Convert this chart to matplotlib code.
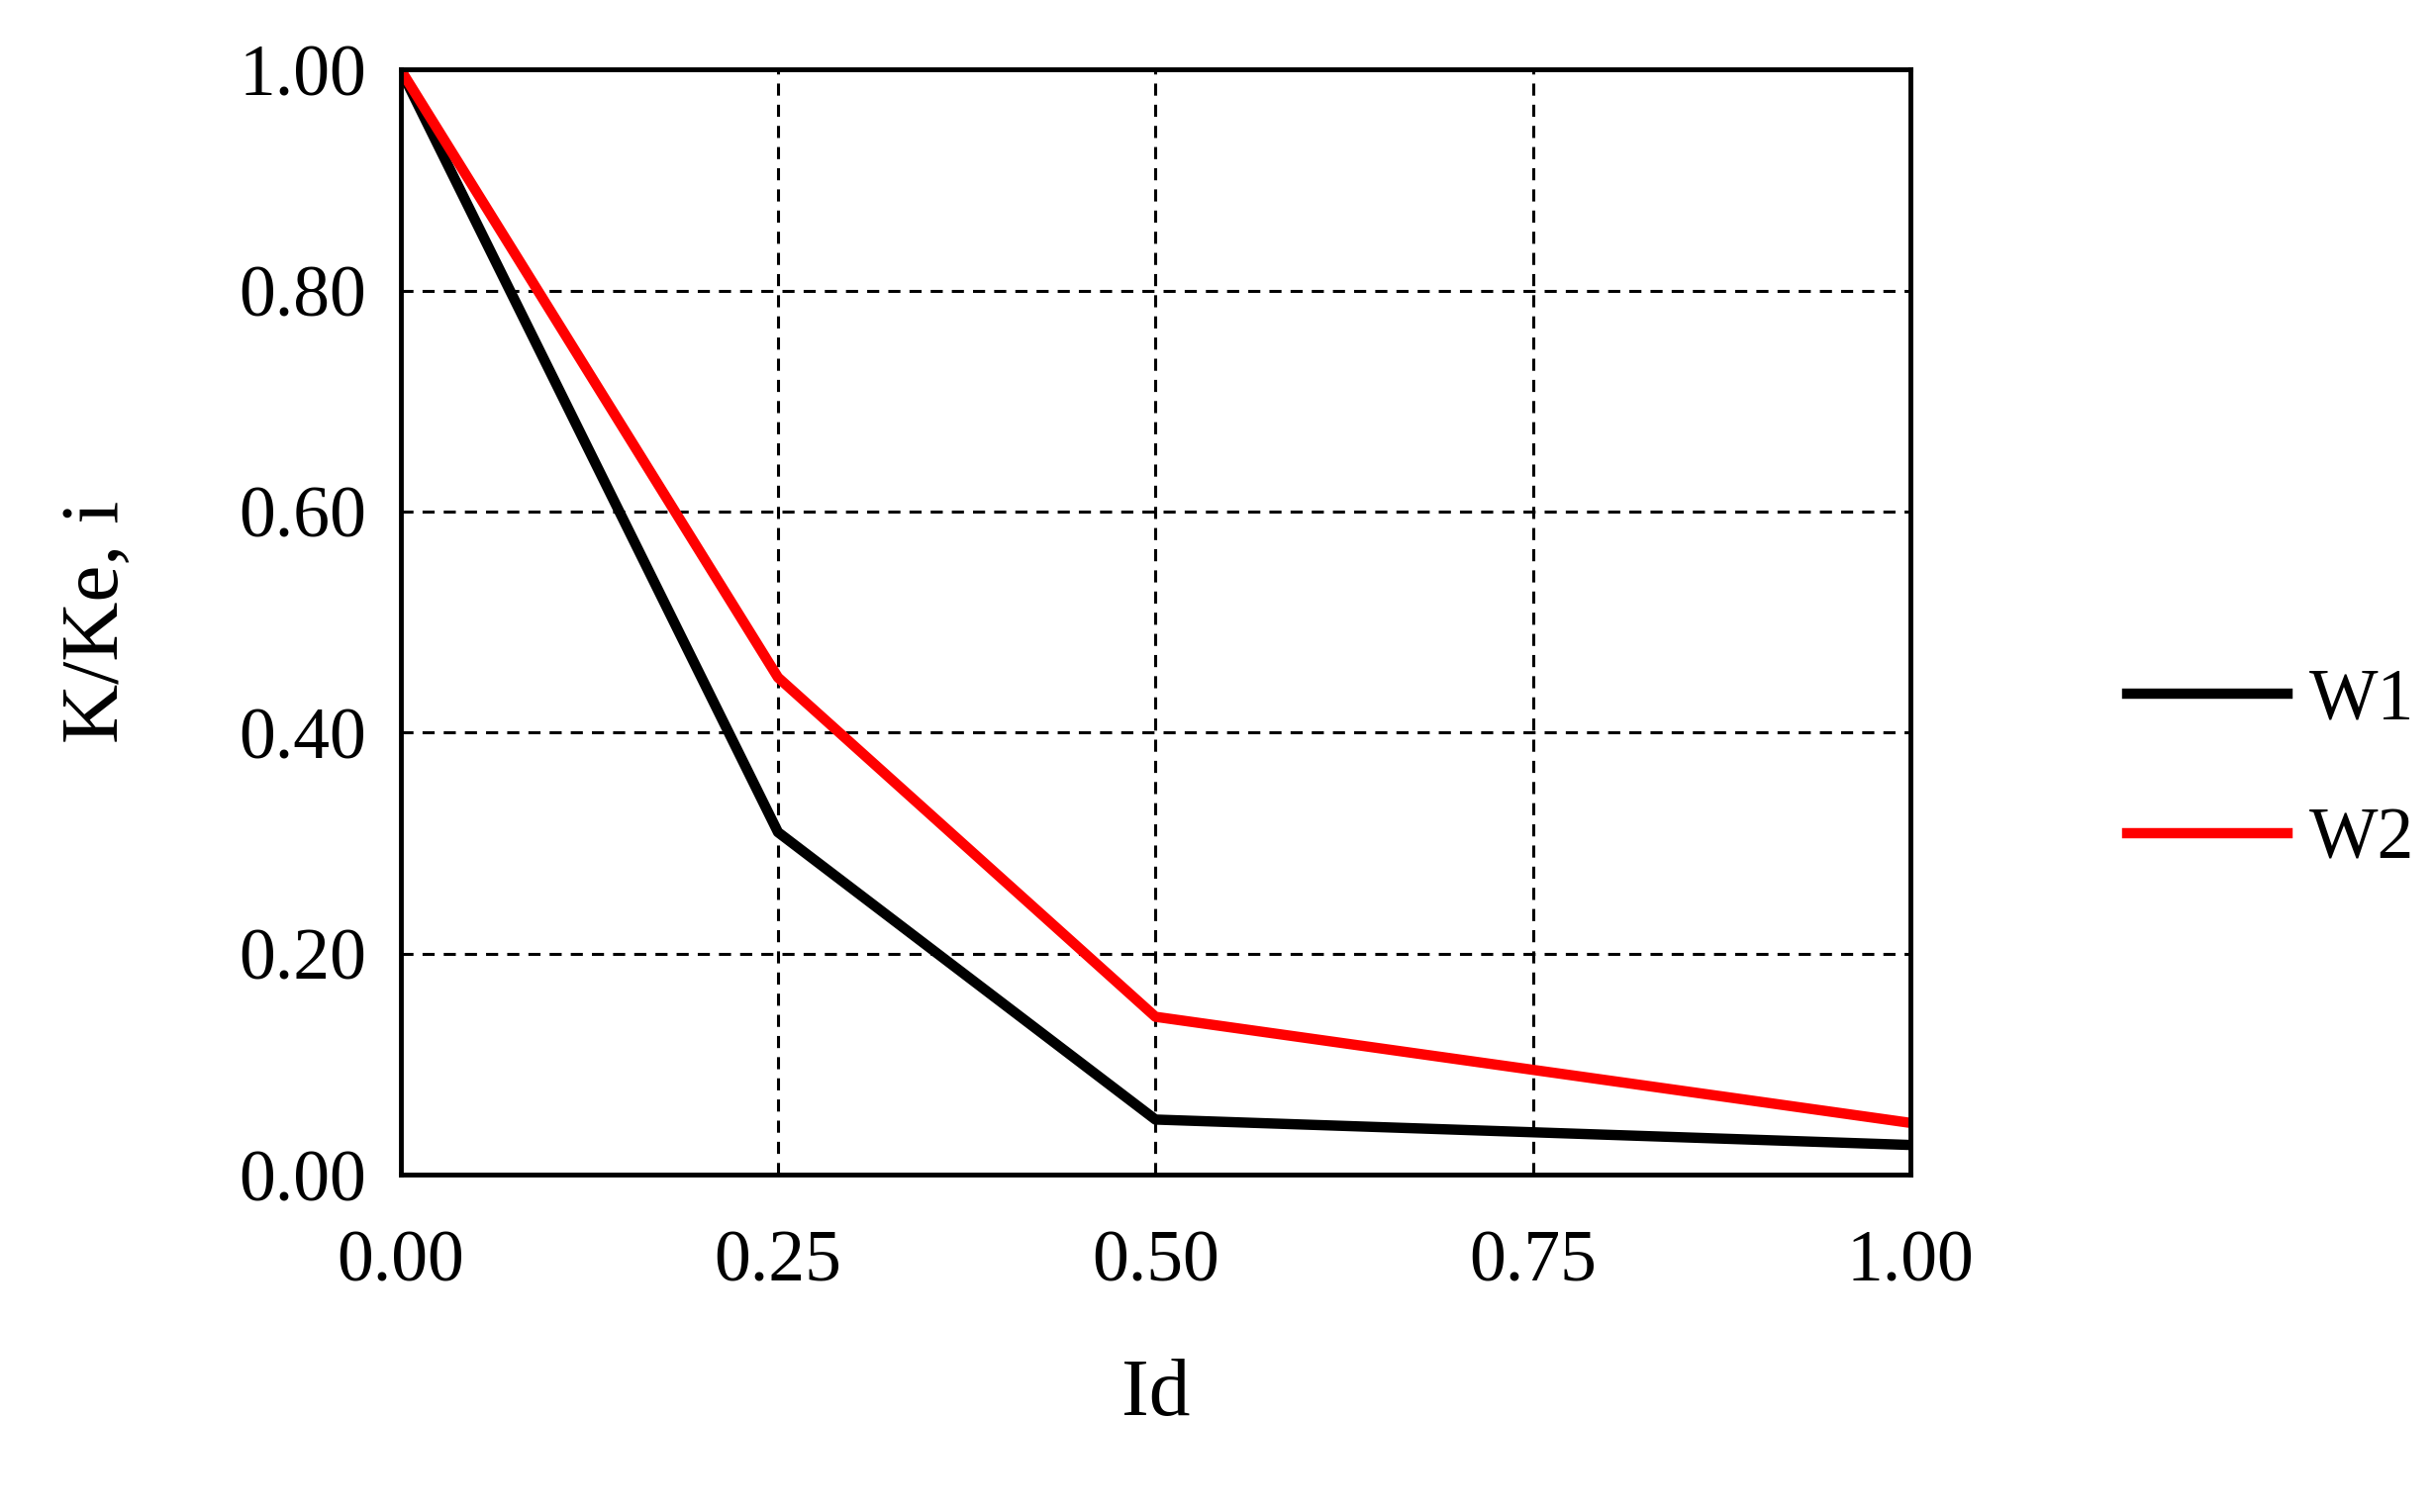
import matplotlib
matplotlib.use("Agg")
import matplotlib.pyplot as plt

x = [0.0, 0.25, 0.5, 1.0]
w1 = [1.0, 0.31, 0.05, 0.027]
w2 = [1.0, 0.45, 0.143, 0.047]
xticks = [0.0, 0.25, 0.5, 0.75, 1.0]
yticks = [0.0, 0.2, 0.4, 0.6, 0.8, 1.0]

plt.rcParams['font.family'] = ['Liberation Serif', 'DejaVu Serif']
fig = plt.figure(figsize=(24.6, 15.28), dpi=100)
ax = fig.add_axes([0.1645, 0.223, 0.62, 0.731])
ax.plot(x, w1, color='black', lw=7.5, label='W1')
ax.plot(x, w2, color='#ff0000', lw=7.5, label='W2')
ax.set_xlim(0, 1)
ax.set_ylim(0, 1)
ax.set_xticks(xticks)
ax.set_xticklabels([f"{v:.2f}" for v in xticks])
ax.set_yticks(yticks)
ax.set_yticklabels([f"{v:.2f}" for v in yticks])
ax.grid(True, color='black', linestyle=(0, (4, 3)), lw=2.2)
ax.tick_params(length=0, labelsize=53, pad=25)
ax.tick_params(axis='x', pad=40)
for s in ax.spines.values():
    s.set_linewidth(3.5)
ax.set_xlabel('Id', fontsize=60, labelpad=45)
ax.set_ylabel('K/Ke, i', fontsize=60, labelpad=75)
ax.legend(loc='center left', bbox_to_anchor=(1.1, 0.365), frameon=False,
          fontsize=53, handlelength=2.2, labelspacing=1.0, handletextpad=0.3)
fig.savefig('out.png', dpi=100)
